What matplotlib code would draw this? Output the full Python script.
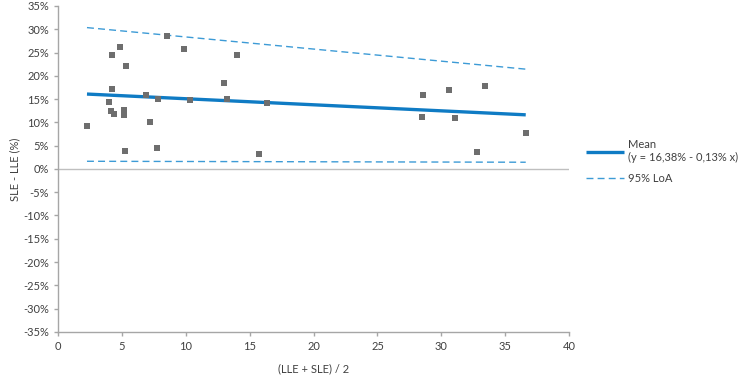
import matplotlib.pyplot as plt
import numpy as np
from matplotlib.ticker import FuncFormatter

plt.rcParams['font.family'] = ['Lato', 'DejaVu Sans']

# mean of the two measurements (x) and difference in % (y)
mean_x = [2.27, 4.02, 4.25, 4.25, 4.88, 5.30, 4.15, 4.36, 5.14, 5.14, 5.22,
          6.86, 7.20, 7.72, 7.80, 8.50, 9.89, 10.30, 13.0, 13.2, 14.0,
          15.76, 16.36, 28.6, 28.5, 30.6, 31.1, 33.4, 32.8, 36.6]
diff_pct = [9.3, 14.4, 17.2, 24.5, 26.3, 22.2, 12.5, 11.8, 12.7, 11.6, 3.9,
            15.8, 10.1, 4.6, 15.1, 28.6, 25.8, 14.8, 18.5, 15.1, 24.4,
            3.2, 14.1, 15.8, 11.2, 17.0, 11.0, 17.9, 3.6, 7.7]

# regression lines: (intercept %, slope % per unit)
mean_line = (16.38, -0.13)
loa_upper = (30.95, -0.26)
loa_lower = (1.66, -0.006)

y_ticks = list(range(-35, 40, 5))
x_ticks = list(range(0, 45, 5))

fig = plt.figure(figsize=(7.46, 3.75), dpi=100)
ax = fig.add_axes([0.0777, 0.115, 0.6853, 0.869])

xs = np.array([min(mean_x), max(mean_x)])
blue = '#0f7bc4'
light = '#3d9bd6'

ax.plot(xs, mean_line[0] + mean_line[1] * xs, color=blue, lw=2.4,
        solid_capstyle='butt', label='Mean\n(y = 16,38% - 0,13% x)', zorder=3)
ax.plot(xs, loa_upper[0] + loa_upper[1] * xs, color=light, lw=1.0,
        ls=(0, (5, 3)), label='95% LoA', zorder=2)
ax.plot(xs, loa_lower[0] + loa_lower[1] * xs, color=light, lw=1.0,
        ls=(0, (5, 3)), zorder=2)
ax.scatter(mean_x, diff_pct, marker='s', s=22, color='#6e6e6e', zorder=4,
           linewidths=0)

ax.axhline(0, color='#bfbfbf', lw=1.0, zorder=1)

ax.set_xlim(0, 40)
ax.set_ylim(-35, 35)
ax.set_xticks(x_ticks)
ax.set_yticks(y_ticks)
ax.yaxis.set_major_formatter(FuncFormatter(lambda v, p: f'{int(v)}%'))

for s in ['top', 'right']:
    ax.spines[s].set_visible(False)
for s in ['left', 'bottom']:
    ax.spines[s].set_color('#a6a6a6')
    ax.spines[s].set_linewidth(1.0)
ax.tick_params(colors='#a6a6a6', length=3, width=1.0, labelcolor='#404040',
               labelsize=8)

ax.set_xlabel('(LLE + SLE) / 2', fontsize=8, color='#404040', labelpad=8)
ax.set_ylabel('SLE - LLE (%)', fontsize=8, color='#404040', labelpad=2)

fig.legend(loc='upper left', bbox_to_anchor=(0.772, 0.655), frameon=False,
           fontsize=8, labelcolor='#404040', handlelength=3.4,
           handletextpad=0.4, labelspacing=0.9)

fig.savefig('out.png', dpi=100)
